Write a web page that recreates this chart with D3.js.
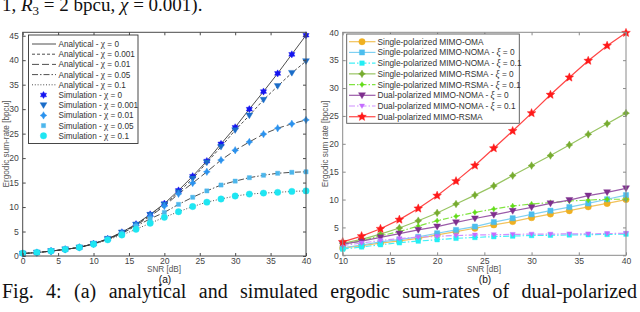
<!DOCTYPE html>
<html><head><meta charset="utf-8">
<script src="https://cdn.jsdelivr.net/npm/d3@7"></script>
<style>
html,body{margin:0;padding:0;background:#fff;}
svg{display:block;}
</style></head>
<body>
<svg id="c" width="640" height="312"></svg>
<script>
// ---------- data (a) ----------
const snrA = [0,2,4,6,8,10,12,14,16,18,20,22,24,26,28,30,32,34,36,38,40];
const chi0   = [0.5,0.7,1.0,1.35,1.75,2.5,3.5,4.85,6.5,8.5,10.7,13.4,16.3,19.4,22.9,26.3,30.0,33.6,37.3,41.2,45.1];
const chi001 = [0.5,0.7,1.0,1.35,1.75,2.5,3.5,4.8,6.4,8.4,10.5,13.0,15.8,19.1,22.3,25.7,28.7,31.9,34.7,37.4,39.8];
const chi01  = [0.5,0.7,1.0,1.35,1.75,2.5,3.45,4.75,6.3,8.1,10.2,12.7,14.9,17.2,19.6,21.6,23.3,24.9,26.1,27.0,27.8];
const chi05  = [0.5,0.7,1.0,1.35,1.75,2.45,3.4,4.6,6.1,7.6,8.9,10.55,12.0,13.3,14.5,15.3,16.0,16.5,16.9,17.1,17.2];
const chi1   = [0.55,0.7,1.0,1.35,1.75,2.4,3.3,4.3,5.45,6.7,7.9,9.05,10.1,11.0,11.65,12.25,12.65,12.85,13.0,13.2,13.3];
const chiLabels = ["0","0.001","0.01","0.05","0.1"];
const ticksAX = [0,5,10,15,20,25,30,35,40];
const ticksAY = [0,5,10,15,20,25,30,35,40,45];

// ---------- data (b) ----------
const snrB = [10,12,14,16,18,20,22,24,26,28,30,32,34,36,38,40];
const spOMA    = [1.3,1.75,2.2,2.6,3.05,3.65,4.25,4.85,5.45,6.05,6.75,7.4,8.0,8.7,9.3,10.0];
const spNOMA0  = [1.35,1.85,2.4,2.8,3.3,3.95,4.55,5.15,5.95,6.65,7.35,8.0,8.65,9.3,10.05,10.8];
const spNOMA01 = [1.1,1.5,1.9,2.25,2.55,2.8,3.05,3.2,3.35,3.45,3.55,3.6,3.65,3.7,3.75,3.8];
const spRSMA0  = [2.15,2.85,3.8,4.9,6.2,7.6,9.2,10.8,12.45,14.3,16.1,17.9,19.8,21.7,23.6,25.5];
const spRSMA01 = [1.9,2.6,3.5,4.25,5.25,6.2,7.0,7.7,8.3,8.85,9.2,9.45,9.75,9.9,10.05,10.05];
const dpNOMA0  = [2.0,2.55,3.2,3.9,4.55,5.15,5.9,6.6,7.25,7.95,8.6,9.3,9.9,10.7,11.3,12.0];
const dpNOMA01 = [1.75,2.2,2.65,3.0,3.25,3.4,3.55,3.65,3.7,3.75,3.8,3.8,3.85,3.85,3.9,3.95];
const dpRSMA   = [2.4,3.45,4.75,6.4,8.4,10.7,13.3,16.1,19.2,22.3,25.5,28.8,31.9,34.9,37.6,39.9];
const namesB = ["Single-polarized MIMO-OMA","Single-polarized MIMO-NOMA - \u03be = 0","Single-polarized MIMO-NOMA - \u03be = 0.1",
  "Single-polarized MIMO-RSMA - \u03be = 0","Single-polarized MIMO-RSMA - \u03be = 0.1","Dual-polarized MIMO-NOMA - \u03be = 0",
  "Dual-polarized MIMO-NOMA - \u03be = 0.1","Dual-polarized MIMO-RSMA"];
const ticksBX = [10,15,20,25,30,35,40];
const ticksBY = [0,5,10,15,20,25,30,35,40];

const captionWords = ["Fig.","4:","(a)","analytical","and","simulated","ergodic","sum-rates","of","dual-polarized"];

// ---------- helpers ----------
const svg = d3.select("#c");
const SANS = "'Liberation Sans', Arial, sans-serif";
const SERIF = "'Liberation Serif', 'Times New Roman', serif";

function starPath(n, R, r){
  let p = [];
  for(let i=0;i<2*n;i++){
    const a = -Math.PI/2 + i*Math.PI/n;
    const rr = i%2===0 ? R : r;
    p.push([rr*Math.cos(a), rr*Math.sin(a)]);
  }
  return "M"+p.map(q=>q[0].toFixed(2)+","+q[1].toFixed(2)).join("L")+"Z";
}
function marker(type, s){
  switch(type){
    case "hex": return starPath(6, s, s*0.6);
    case "pent": return starPath(5, s, s*0.45);
    case "tri": return `M${-s},${-s*0.75}L${s},${-s*0.75}L0,${s*0.95}Z`;
    case "sq": return `M${-s},${-s}H${s}V${s}H${-s}Z`;
    case "circ": return d3.symbol(d3.symbolCircle, Math.PI*s*s)();
    case "dcross": return `M0,${-s*1.1}L${s*0.4},${-s*0.4}L${s},0L${s*0.4},${s*0.4}L0,${s*1.1}L${-s*0.4},${s*0.4}L${-s},0L${-s*0.4},${-s*0.4}Z`;
  }
}

function drawAxes(g, x, y, xt, yt, col){
  const [x0,x1] = x.range(); const [y1,y0] = y.range();
  const fmt = d3.format("d");
  const ax = (sel)=>{ sel.select(".domain").remove(); sel.selectAll("line").attr("stroke",col);
    sel.selectAll("text").attr("fill","#444").style("font-family",SANS).style("font-size","8.6px"); };
  g.append("g").attr("transform",`translate(0,${y1})`).call(d3.axisBottom(x).tickValues(xt).tickFormat(fmt).tickSize(-3).tickPadding(2.2)).call(ax);
  g.append("g").attr("transform",`translate(0,${y0})`).call(d3.axisTop(x).tickValues(xt).tickFormat("").tickSize(-3)).call(ax);
  g.append("g").attr("transform",`translate(${x0},0)`).call(d3.axisLeft(y).tickValues(yt).tickFormat(fmt).tickSize(-3).tickPadding(4)).call(ax);
  g.append("g").attr("transform",`translate(${x1},0)`).call(d3.axisRight(y).tickValues(yt).tickFormat("").tickSize(-3)).call(ax);
  g.append("rect").attr("x",x0).attr("y",y0).attr("width",x1-x0).attr("height",y1-y0)
    .attr("fill","none").attr("stroke",col).attr("stroke-width",1);
}

// ---------- plot (a) ----------
const xA = d3.scaleLinear().domain([0,40]).range([22.7,306]);
const yA = d3.scaleLinear().domain([0,45.7]).range([256,32.3]);
const gA = svg.append("g");
const seriesA = [chi0,chi001,chi01,chi05,chi1];
const dashA = [null,"3,2","7,3","6,2,1.5,2","1,1.8"];
const colA = ["#1414f0","#1a6cc8","#2b92ee","#4cb6ec","#1ee6f2"];
const mkA = [["hex",3.6],["tri",3.4],["dcross",3.4],["sq",2.1],["circ",3.2]];
const lineA = d3.line().x((d,i)=>xA(snrA[i])).y(d=>yA(d));

gA.append("rect").attr("x",22.7).attr("y",32.3).attr("width",283.3).attr("height",223.7).attr("fill","#fff");
seriesA.forEach((s,k)=>{
  gA.append("path").attr("d",lineA(s)).attr("fill","none").attr("stroke","#3a3a3a")
    .attr("stroke-width",0.9).attr("stroke-dasharray",dashA[k]);
});
seriesA.forEach((s,k)=>{
  gA.append("g").selectAll("path").data(s).join("path")
    .attr("transform",(d,i)=>`translate(${xA(snrA[i])},${yA(d)})`)
    .attr("d",marker(mkA[k][0],mkA[k][1])).attr("fill",colA[k]).attr("stroke",colA[k]).attr("stroke-width",0.4);
});
drawAxes(gA,xA,yA,ticksAX,ticksAY,"#4a4a4a");

// legend (a)
const legA = gA.append("g");
legA.append("rect").attr("x",28.5).attr("y",35).attr("width",109.5).attr("height",108.5)
  .attr("fill","#fff").attr("stroke","#333").attr("stroke-width",0.9);
for(let k=0;k<10;k++){
  const yy = 44 + k*10.2;
  const row = legA.append("g");
  if(k<5){
    row.append("line").attr("x1",32).attr("x2",56).attr("y1",yy).attr("y2",yy)
      .attr("stroke","#3a3a3a").attr("stroke-width",0.9).attr("stroke-dasharray",dashA[k]);
  } else {
    const j=k-5;
    row.append("path").attr("transform",`translate(43.5,${yy})`).attr("d",marker(mkA[j][0],mkA[j][1]))
      .attr("fill",colA[j]).attr("stroke",colA[j]).attr("stroke-width",0.4);
  }
  const t = row.append("text").attr("x",58.5).attr("y",yy+3).attr("fill","#333")
    .style("font-family",SANS).style("font-size","8.2px");
  t.append("tspan").text((k<5?"Analytical":"Simulation")+" - ");
  t.append("tspan").style("font-family",SERIF).style("font-size","9.5px").text("\u03c7");
  t.append("tspan").text(" = "+chiLabels[k%5]);
}

gA.append("text").attr("x",164).attr("y",272).attr("text-anchor","middle").attr("fill","#555")
  .style("font-family",SANS).style("font-size","8.2px").text("SNR [dB]");
gA.append("text").attr("x",165).attr("y",283.3).attr("text-anchor","middle").attr("fill","#111")
  .style("font-family",SANS).style("font-size","10.2px").text("(a)");
gA.append("text").attr("transform","translate(8.5,144) rotate(-90)").attr("text-anchor","middle").attr("fill","#555")
  .style("font-family",SANS).style("font-size","8.2px").text("Ergodic sum-rate [bpcu]");

// ---------- plot (b) ----------
const xB = d3.scaleLinear().domain([10,40]).range([342.7,626]);
const yB = d3.scaleLinear().domain([0,40]).range([255.3,32.3]);
const gB = svg.append("g");
const seriesB = [spOMA,spNOMA0,spNOMA01,spRSMA0,spRSMA01,dpNOMA0,dpNOMA01,dpRSMA];
const colB = ["#efb021","#4dbeee","#22eef4","#77ac30","#62dc18","#7e2f8e","#c46cff","#ff1a1a"];
const lcolB = ["#f2c25a","#7fd0f2","#40f0f6","#98c462","#80e440","#9a5aa8","#d090ff","#ff4545"];
const dashB = [null,null,"6,2,1.5,2",null,"6,2,1.5,2",null,"6,2,1.5,2",null];
const mkB = [["circ",3.2],["sq",2.6],["sq",2.3],["dcross",3.5],["dcross",2.6],["tri",3.5],["tri",2.6],["pent",4.6]];
const lineB = d3.line().x((d,i)=>xB(snrB[i])).y(d=>yB(d));
gB.append("rect").attr("x",342.7).attr("y",32.3).attr("width",283.3).attr("height",223).attr("fill","#fff");
seriesB.forEach((s,k)=>{
  gB.append("path").attr("d",lineB(s)).attr("fill","none").attr("stroke",lcolB[k])
    .attr("stroke-width",1.2).attr("stroke-dasharray",dashB[k]);
  gB.append("g").selectAll("path").data(s).join("path")
    .attr("transform",(d,i)=>`translate(${xB(snrB[i])},${yB(d)})`)
    .attr("d",marker(mkB[k][0],mkB[k][1])).attr("fill",colB[k]).attr("stroke",colB[k]).attr("stroke-width",0.4);
});
drawAxes(gB,xB,yB,ticksBX,ticksBY,"#8a8a8a");

const legB = gB.append("g");
legB.append("rect").attr("x",346.7).attr("y",34).attr("width",172.6).attr("height",89.3)
  .attr("fill","#fff").attr("stroke","#555").attr("stroke-width",0.9);
namesB.forEach((nm,k)=>{
  const yy = 41.7 + k*10.72;
  legB.append("line").attr("x1",349).attr("x2",375.5).attr("y1",yy).attr("y2",yy)
    .attr("stroke",lcolB[k]).attr("stroke-width",1.2).attr("stroke-dasharray",dashB[k]);
  legB.append("path").attr("transform",`translate(362,${yy})`).attr("d",marker(mkB[k][0],mkB[k][1]))
    .attr("fill",colB[k]).attr("stroke",colB[k]).attr("stroke-width",0.4);
  const t = legB.append("text").attr("x",377.5).attr("y",yy+3).attr("fill","#333")
    .style("font-family",SANS).style("font-size","8.3px");
  const parts = nm.split("\u03be");
  t.append("tspan").text(parts[0]);
  if(parts.length>1){
    t.append("tspan").style("font-family",SERIF).style("font-style","italic").style("font-size","9.5px").text("\u03be");
    t.append("tspan").text(parts[1]);
  }
});

gB.append("text").attr("x",484).attr("y",272).attr("text-anchor","middle").attr("fill","#555")
  .style("font-family",SANS).style("font-size","8.2px").text("SNR [dB]");
gB.append("text").attr("x",485).attr("y",283.3).attr("text-anchor","middle").attr("fill","#111")
  .style("font-family",SANS).style("font-size","10.2px").text("(b)");
gB.append("text").attr("transform","translate(328,144) rotate(-90)").attr("text-anchor","middle").attr("fill","#555")
  .style("font-family",SANS).style("font-size","8.2px").text("Ergodic sum rate [bpcu]");

// ---------- captions ----------
const topCap = svg.append("text").attr("x",2).attr("y",10.5).attr("fill","#111")
  .style("font-family",SERIF).style("font-size","19px");
topCap.append("tspan").text("1, ");
topCap.append("tspan").style("font-style","italic").text("R");
topCap.append("tspan").attr("dy",4).style("font-size","13px").text("3");
topCap.append("tspan").attr("dy",-4).text(" = 2 bpcu, ");
topCap.append("tspan").style("font-style","italic").text("\u03c7");
topCap.append("tspan").text(" = 0.001).");

const cap = svg.append("g");
const widths = [];
const nodes = captionWords.map(w=>{
  const t = cap.append("text").attr("y",298).attr("fill","#111")
    .style("font-family",SERIF).style("font-size","20px").text(w);
  widths.push(t.node().getComputedTextLength());
  return t;
});
const total = d3.sum(widths);
const gap = (637 - 2 - total)/(captionWords.length-1);
let cx = 2;
nodes.forEach((t,i)=>{ t.attr("x",cx); cx += widths[i]+gap; });
</script>
</body></html>
